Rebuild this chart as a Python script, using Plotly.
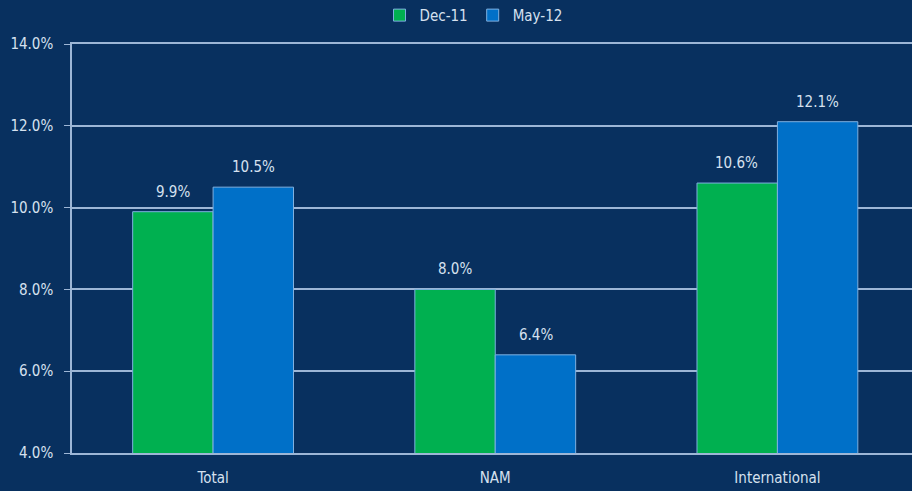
import plotly.graph_objects as go

categories = ["Total", "NAM", "International"]
dec11 = [9.9, 8.0, 10.6]
may12 = [10.5, 6.4, 12.1]
series_names = ["Dec-11", "May-12"]
y_ticks = [4, 6, 8, 10, 12, 14]

BG = "#08305f"
TXT = "#d6e1ef"
GRID = "#9db6d6"
FONT = "DejaVu Sans Condensed, Liberation Sans Narrow, Liberation Sans, sans-serif"

fig = go.Figure()
colors = ["#00b050", "#0070c8"]
for name, vals, col in zip(series_names, [dec11, may12], colors):
    fig.add_trace(go.Bar(
        x=categories, y=vals, name=name,
        marker=dict(color=col, line=dict(color="#7fb0e0", width=1)),
    ))

# data labels above bars
for vals, shift in [(dec11, -40.5), (may12, 40.5)]:
    for c, v in zip(categories, vals):
        fig.add_annotation(x=c, y=v, text=f"{v:.1f}%", showarrow=False,
                           xshift=shift, yshift=20, xref="x", yref="y",
                           font=dict(color=TXT, size=15, family=FONT))

fig.update_layout(
    width=912, height=491,
    paper_bgcolor=BG, plot_bgcolor=BG,
    margin=dict(l=72, r=0, t=44, b=38, autoexpand=False),
    barmode="group", bargap=0.43, bargroupgap=0,
    font=dict(family=FONT, color=TXT, size=15),
    showlegend=True,
    legend=dict(orientation="h", x=0.478, xanchor="center", y=1.07, yanchor="middle",
                font=dict(size=15, color=TXT, family=FONT), bgcolor="rgba(0,0,0,0)",
                traceorder="normal"),
    xaxis=dict(range=[-0.5, 2.477], showgrid=False, ticks="",
               showline=True, mirror=True, linecolor=GRID, linewidth=1.5,
               ticklabelstandoff=10,
               tickfont=dict(size=15, color=TXT)),
    yaxis=dict(range=[4, 14], tickvals=y_ticks,
               ticktext=[f"{v:.1f}%" for v in y_ticks],
               showgrid=True, gridcolor=GRID, gridwidth=1.5,
               showline=True, linecolor=GRID, linewidth=1.5,
               ticks="outside", ticklen=6, tickcolor=GRID,
               ticklabelstandoff=8,
               tickfont=dict(size=15, color=TXT), zeroline=False),
)

fig.write_html("out.html")
